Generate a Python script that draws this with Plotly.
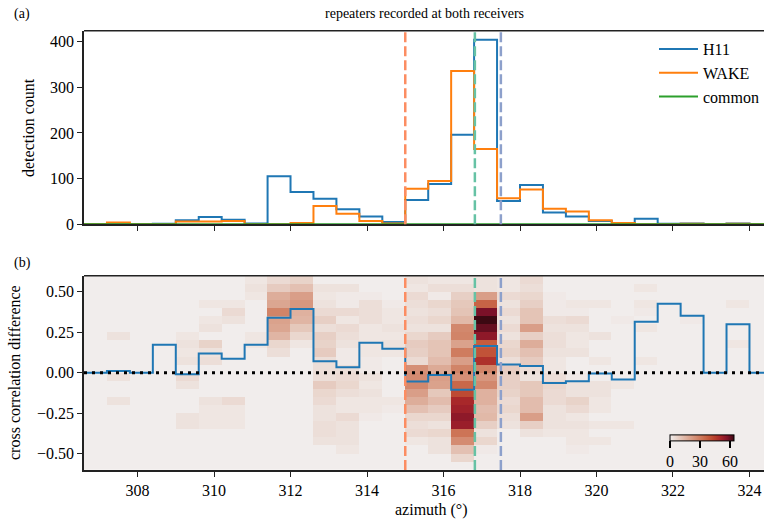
import plotly.graph_objects as go

# ---------------- data ----------------
azimuth_edges = [round(306.6 + 0.6 * k, 1) for k in range(31)]          # histogram / heatmap bin edges (deg)
azimuth_centres = [round(306.9 + 0.6 * k, 2) for k in range(30)]
h11_counts = [0, 0, 0, 1, 9, 16, 10, 2, 105, 71, 56, 33, 17, 5, 53, 88, 196, 404,
              51, 86, 26, 17, 7, 1, 12, 1, 2, 0, 2, 0]
wake_counts = [0, 4, 0, 0, 6, 6, 7, 0, 0, 3, 40, 23, 7, 2, 78, 95, 336, 165,
               57, 76, 34, 28, 9, 3, 0, 0, 1, 0, 1, 0]
common_counts = [0] * 30
xcorr_diff = [0, 0.012, 0, 0.174, -0.008, 0.12, 0.087, 0.174, 0.34, 0.394, 0.071, 0.034,
              0.186, 0.149, -0.053, -0.014, -0.105, 0.166, 0.052, 0.042, -0.062, -0.052,
              -0.004, -0.041, 0.315, 0.427, 0.352, 0, 0.30, 0]
xcorr_centres_top_down = [round(0.575 - 0.05 * k, 3) for k in range(24)]
# 2-D density (rows from top = +0.575 down to -0.575, columns = azimuth bins)
density_top_down = [
    [0,0,0,0,0,0,0,2,5,7,0,0,0,0,3,2,2,3,2,5,0,0,0,0,0,0,0,0,0,0],
    [0,0,0,0,0,0,0,3,9,12,3,3,0,0,2,4,4,3,2,4,0,0,0,0,2,0,0,0,0,0],
    [0,0,0,0,0,0,0,2,17,21,2,1,1,0,5,1,8,21,5,6,1,0,0,0,0,0,0,0,0,0],
    [0,0,0,0,0,2,2,0,19,23,3,1,4,1,4,6,10,36,3,8,1,2,2,0,2,0,0,0,2,0],
    [0,0,0,0,0,0,5,0,28,16,5,5,4,2,3,4,11,58,5,11,1,1,0,0,1,0,0,0,0,0],
    [0,0,0,0,0,2,3,0,20,15,8,2,4,2,4,6,14,64,3,11,4,5,0,1,0,0,1,0,0,0],
    [0,0,0,0,0,3,0,0,19,10,4,5,2,3,3,3,27,60,5,21,3,3,0,0,2,0,0,0,0,0],
    [0,3,0,0,2,0,0,2,15,6,8,4,2,2,6,9,28,55,3,8,4,2,3,0,0,0,0,0,0,0],
    [0,0,0,0,3,7,0,2,6,2,7,3,2,3,9,11,20,38,6,17,4,2,0,0,0,0,0,0,2,0],
    [0,0,0,0,2,3,0,0,4,0,9,1,2,2,8,11,30,40,7,12,3,3,0,0,0,0,0,0,0,0],
    [0,0,0,0,3,4,0,0,0,0,4,1,1,0,5,13,21,48,4,9,2,0,2,0,2,0,0,0,0,0],
    [0,0,0,0,0,0,0,0,0,0,4,4,1,0,25,18,28,28,9,4,2,0,0,0,0,0,0,0,0,0],
    [0,3,0,0,5,0,0,0,0,0,4,5,3,0,26,21,25,23,8,3,4,1,0,0,0,0,0,0,0,0],
    [0,0,0,0,3,0,0,0,0,0,9,6,2,0,27,20,35,27,8,10,6,3,3,2,0,0,0,0,0,0],
    [0,0,0,0,0,0,0,0,0,0,6,4,3,0,21,10,42,16,7,10,5,3,3,0,0,0,0,0,0,0],
    [0,3,0,0,0,3,5,0,0,0,5,2,2,2,17,13,50,16,5,13,5,7,2,0,0,0,0,0,0,0],
    [0,0,0,0,0,2,2,0,0,0,3,2,2,1,12,9,52,13,6,13,3,5,2,0,0,0,0,0,0,0],
    [0,0,0,0,3,2,2,0,0,0,3,5,1,0,6,6,55,14,4,21,3,2,0,0,0,0,0,0,0,0],
    [0,0,0,0,3,2,2,0,0,0,4,3,0,0,4,3,53,8,3,8,3,3,2,2,0,0,0,0,0,0],
    [0,0,0,0,0,0,0,0,0,0,4,3,0,0,5,6,32,3,0,3,2,2,0,0,0,0,0,0,0,0],
    [0,0,0,0,0,0,0,0,0,0,3,3,0,0,2,3,26,6,0,0,0,2,2,0,0,0,0,0,0,0],
    [0,0,0,0,0,0,0,0,0,0,0,2,0,0,0,3,12,1,0,0,0,1,0,0,0,0,0,0,0,0],
    [0,0,0,0,0,0,0,0,0,0,0,0,0,0,0,0,6,0,0,0,0,0,0,0,0,0,0,0,0,0],
    [0,0,0,0,0,0,0,0,0,0,0,0,0,0,0,0,0,0,0,0,0,0,0,0,0,0,0,0,0,0],
]
marker_azimuths = [315.0, 316.82, 317.5]
marker_colors = ["#fc8d62", "#66c2a5", "#8da0cb"]
x_ticks = [308, 310, 312, 314, 316, 318, 320, 322, 324]
y1_ticks = [0, 100, 200, 300, 400]
y2_ticks = [-0.5, -0.25, 0.0, 0.25, 0.5]
y2_ticktext = ["\u22120.50", "\u22120.25", "0.00", "0.25", "0.50"]
cbar_ticks = [0, 30, 60]

# ---------------- styling ----------------
FONT = "Liberation Serif"
FS = 16
FS_SMALL = 14
AX = "#222222"
W, H, L = 764, 523, 84
PW = W - L


def px(xp):
    return (xp - L) / PW


def py(yp):
    return (H - yp) / H


amp = [
    [0.0, "#f1edec"], [0.1, "#e9d5cc"], [0.2, "#e2bdae"], [0.3, "#dba590"],
    [0.4, "#d48d73"], [0.5, "#cd7456"], [0.6, "#c45a3c"], [0.7, "#b83e2c"],
    [0.8, "#a4232a"], [0.9, "#7f1229"], [1.0, "#3c0912"],
]


def step(vals):
    return list(vals) + [vals[-1]]


fig = go.Figure()

# heatmap (bottom panel)
fig.add_trace(go.Heatmap(
    x=azimuth_centres, y=xcorr_centres_top_down[::-1], z=density_top_down[::-1],
    xaxis="x2", yaxis="y2", colorscale=amp, zmin=0, zmax=64, showlegend=False,
    colorbar=dict(orientation="h", x=px(702), xanchor="center", y=py(453), yanchor="middle",
                  len=64 / PW, lenmode="fraction", thickness=6, xpad=0, ypad=0,
                  outlinewidth=1, outlinecolor="black", ticks="outside", ticklen=7,
                  tickwidth=1.5, tickcolor="black", tickvals=cbar_ticks,
                  tickfont=dict(family=FONT, size=16, color="black")),
))
fig.add_trace(go.Scatter(x=azimuth_edges, y=step(xcorr_diff), xaxis="x2", yaxis="y2",
                         mode="lines", line=dict(color="#1f77b4", width=2, shape="hv"),
                         showlegend=False))

# histograms (top panel)
for name, vals, col in [("H11", h11_counts, "#1f77b4"), ("WAKE", wake_counts, "#ff7f0e"),
                        ("common", common_counts, "#2ca02c")]:
    fig.add_trace(go.Scatter(x=azimuth_edges, y=step(vals), mode="lines", name=name,
                             legendgroup=name,
                             line=dict(color=col, width=2, shape="hv")))

shapes = []
for xa, ca in zip(marker_azimuths, marker_colors):
    for yr in ["y domain", "y2 domain"]:
        shapes.append(dict(type="line", xref="x", yref=yr, x0=xa, x1=xa, y0=0, y1=1,
                           line=dict(color=ca, width=2.5, dash="10px,4px"), layer="above"))
shapes.append(dict(type="line", xref="x2 domain", yref="y2", x0=0, x1=1, y0=0, y1=0,
                   line=dict(color="black", width=3, dash="3px,5px"), layer="above"))
for yr in ["y domain", "y2 domain"]:
    shapes.append(dict(type="line", xref="paper", yref=yr, x0=0, x1=1, y0=1, y1=1,
                       line=dict(color=AX, width=1.5), layer="above"))

axis_common = dict(showline=True, linecolor=AX, linewidth=1.5, ticks="outside", ticklen=5,
                   tickwidth=1.3, tickcolor=AX, showgrid=False, zeroline=False,
                   tickfont=dict(family=FONT, size=FS, color="black"), mirror=False,
                   automargin=False)

annotations = [
    dict(text="(a)", x=px(22), y=py(14), size=FS_SMALL),
    dict(text="(b)", x=px(22), y=py(263), size=FS_SMALL),
    dict(text="repeaters recorded at both receivers", x=0.5, y=py(14), size=FS_SMALL),
    dict(text="detection count", x=px(28), y=py(128), textangle=-90, size=FS),
    dict(text="cross correlation difference", x=px(14), y=py(373), textangle=-90, size=FS),
    dict(text="azimuth (\u00b0)", x=px(431), y=py(510), size=FS),
]
for a in annotations:
    sz = a.pop("size")
    a.update(xref="paper", yref="paper", showarrow=False, xanchor="center", yanchor="middle",
             font=dict(family=FONT, size=sz, color="black"))

fig.update_layout(
    width=W, height=H, margin=dict(l=L, r=0, t=0, b=0, autoexpand=False),
    paper_bgcolor="white", plot_bgcolor="white",
    font=dict(family=FONT, size=FS, color="black"),
    xaxis=dict(domain=[0, 1], anchor="y", range=[306.6, 324.38], tickvals=x_ticks,
               showticklabels=False, **axis_common),
    yaxis=dict(domain=[py(224.3), py(30.7)], anchor="x", range=[0, 424], tickvals=y1_ticks,
               **axis_common),
    xaxis2=dict(domain=[0, 1], anchor="y2", range=[306.6, 324.38], tickvals=x_ticks,
                matches="x", **axis_common),
    yaxis2=dict(domain=[py(470), py(275.7)], anchor="x2", range=[-0.6, 0.6], tickvals=y2_ticks,
                ticktext=y2_ticktext, **axis_common),
    shapes=shapes, annotations=annotations,
    legend=dict(x=px(654), y=py(32), xanchor="left", yanchor="top", bgcolor="rgba(0,0,0,0)",
                font=dict(family=FONT, size=FS, color="black"), tracegroupgap=0,
                itemwidth=39),
)

fig.write_html("out.html")
